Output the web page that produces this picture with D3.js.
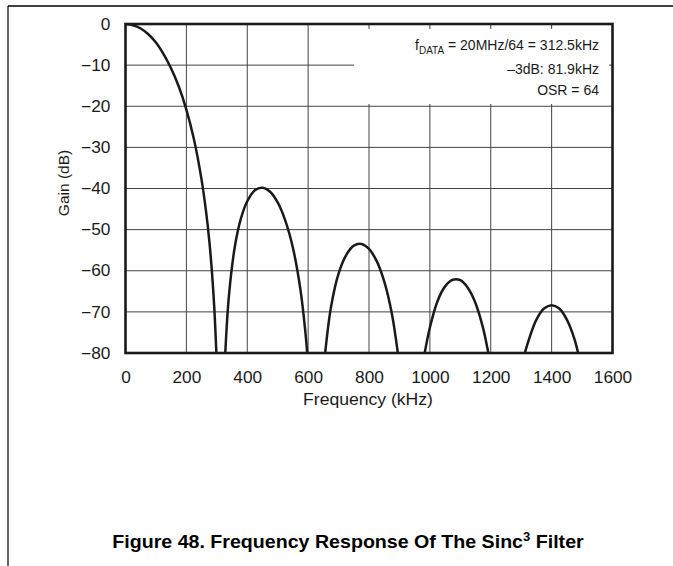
<!DOCTYPE html>
<html><head><meta charset="utf-8">
<script src="https://cdn.jsdelivr.net/npm/d3@7"></script>
<style>
html,body{margin:0;padding:0;background:#fff;}
svg{display:block;font-family:Arial,"Liberation Sans",sans-serif;}
</style></head>
<body>
<svg id="chart" width="673" height="566"></svg>
<script>
// ---- data ----
const xTicks = [0, 200, 400, 600, 800, 1000, 1200, 1400, 1600];
const yTicks = [0, -10, -20, -30, -40, -50, -60, -70, -80];
const mainLobe = [[0,0],[25,-0.3],[50,-1.1],[75,-2.5],[100,-4.5],[125,-7.3],[150,-10.8],[175,-15.2],[200,-20.8],[225,-28.1],[250,-37.9],[265,-45.8],[275,-52.5],[285,-61.3],[292,-69.4],[298.6,-80]];
const lobe1 = [[327.8,-80],[340,-65.9],[360,-53.8],[380,-47.1],[400,-43.1],[425,-40.4],[450,-39.8],[475,-40.8],[500,-43.4],[525,-47.8],[550,-54.4],[575,-64.7],[590,-74.2],[596.9,-80]];
const lobe2 = [[656,-80],[675,-68.9],[700,-60.7],[725,-56.2],[750,-53.9],[775,-53.5],[800,-54.7],[825,-57.6],[850,-62.6],[875,-70.4],[894.7,-80]];
const lobe3 = [[983,-80],[1000,-73.8],[1025,-67.4],[1050,-63.8],[1075,-62.2],[1100,-62.3],[1125,-64.2],[1150,-67.9],[1175,-74.0],[1192,-80]];
const lobe4 = [[1312,-80],[1325,-76.8],[1350,-71.9],[1375,-69.2],[1400,-68.4],[1425,-69.2],[1450,-71.9],[1475,-76.6],[1487,-80]];
const lobes = [mainLobe, lobe1, lobe2, lobe3, lobe4];
const noteLines = ["= 20MHz/64 = 312.5kHz", "\u20133dB: 81.9kHz", "OSR = 64"];

// ---- drawing ----
const svg = d3.select("#chart");
const L = 125.5, R = 612.5, T = 24, B = 353;
const x = d3.scaleLinear().domain([0, 1600]).range([L, R]);
const y = d3.scaleLinear().domain([-80, 0]).range([B, T]);
const INK = "#1a1a1a";

// page frame
svg.append("line").attr("x1", 8).attr("x2", 673).attr("y1", 6).attr("y2", 6).attr("stroke", "#000").attr("stroke-width", 1.5);
svg.append("line").attr("x1", 8).attr("x2", 8).attr("y1", 6).attr("y2", 566).attr("stroke", "#000").attr("stroke-width", 1.2);

// grid
const grid = svg.append("g");
grid.selectAll("line.v").data(xTicks.slice(1, -1)).join("line")
  .attr("x1", d => x(d)).attr("x2", d => x(d)).attr("y1", T).attr("y2", B)
  .attr("stroke", "#444").attr("stroke-width", 1);
grid.selectAll("line.h").data(yTicks.slice(1, -1)).join("line")
  .attr("x1", L).attr("x2", R).attr("y1", d => y(d)).attr("y2", d => y(d))
  .attr("stroke", "#444").attr("stroke-width", 1);

// white box behind annotation
svg.append("rect").attr("x", 354).attr("y", 29).attr("width", 255).attr("height", 75).attr("fill", "#fff");

// curves
svg.append("clipPath").attr("id", "clip").append("rect")
  .attr("x", L).attr("y", T).attr("width", R - L).attr("height", B - T);
const line = d3.line().x(d => x(d[0])).y(d => y(d[1])).curve(d3.curveCatmullRom.alpha(0.5));
svg.append("g").attr("clip-path", "url(#clip)").selectAll("path").data(lobes).join("path")
  .attr("d", line).attr("fill", "none").attr("stroke", INK).attr("stroke-width", 2.5)
  .attr("stroke-linejoin", "round");

// plot border
svg.append("rect").attr("x", L).attr("y", T).attr("width", R - L).attr("height", B - T)
  .attr("fill", "none").attr("stroke", INK).attr("stroke-width", 2.6);

// axes labels
const yAxis = d3.axisLeft(y).tickValues(yTicks).tickSize(0).tickPadding(14).tickFormat(d3.format("d"));
const gy = svg.append("g").attr("transform", `translate(${L},0)`).call(yAxis);
gy.select(".domain").remove();
gy.selectAll("text").attr("font-size", 16).attr("fill", INK)
  .attr("font-family", "Arial, 'Liberation Sans', sans-serif").attr("transform", "scale(1.08,1)");

const xAxis = d3.axisBottom(x).tickValues(xTicks).tickSize(0).tickPadding(18.5).tickFormat(d3.format("d"));
const gx = svg.append("g").attr("transform", `translate(0,${B})`).call(xAxis);
gx.select(".domain").remove();
gx.selectAll("text").attr("font-size", 16).attr("fill", INK)
  .attr("font-family", "Arial, 'Liberation Sans', sans-serif").attr("transform", "scale(1.08,1)");

svg.append("text").attr("transform", `translate(${(L + R) / 2 - 1},404.5) scale(1.1,1)`).attr("text-anchor", "middle")
  .attr("font-size", 16).attr("fill", INK).text("Frequency (kHz)");
svg.append("text").attr("transform", `translate(69,183) rotate(-90)`).attr("text-anchor", "middle")
  .attr("font-size", 15.5).attr("fill", INK).text("Gain (dB)");

// annotation
const nx = 599;
const t1 = svg.append("text").attr("x", nx).attr("y", 50).attr("text-anchor", "end").attr("font-size", 14).attr("fill", INK);
t1.append("tspan").text("f");
t1.append("tspan").attr("font-size", 10).attr("dy", 4).text("DATA");
t1.append("tspan").attr("dy", -4).text(" " + noteLines[0]);
svg.append("text").attr("x", nx).attr("y", 73.5).attr("text-anchor", "end").attr("font-size", 14).attr("fill", INK).text(noteLines[1]);
svg.append("text").attr("x", nx).attr("y", 95).attr("text-anchor", "end").attr("font-size", 14).attr("fill", INK).text(noteLines[2]);

// caption
const cap = svg.append("text").attr("transform", "translate(348,548) scale(1.09,1)").attr("text-anchor", "middle")
  .attr("font-size", 18).attr("font-weight", "bold").attr("fill", "#000");
cap.append("tspan").text("Figure 48. Frequency Response Of The Sinc");
cap.append("tspan").attr("font-size", 12).attr("dy", -7.5).text("3");
cap.append("tspan").attr("dy", 7.5).text(" Filter");
</script>
</body></html>
